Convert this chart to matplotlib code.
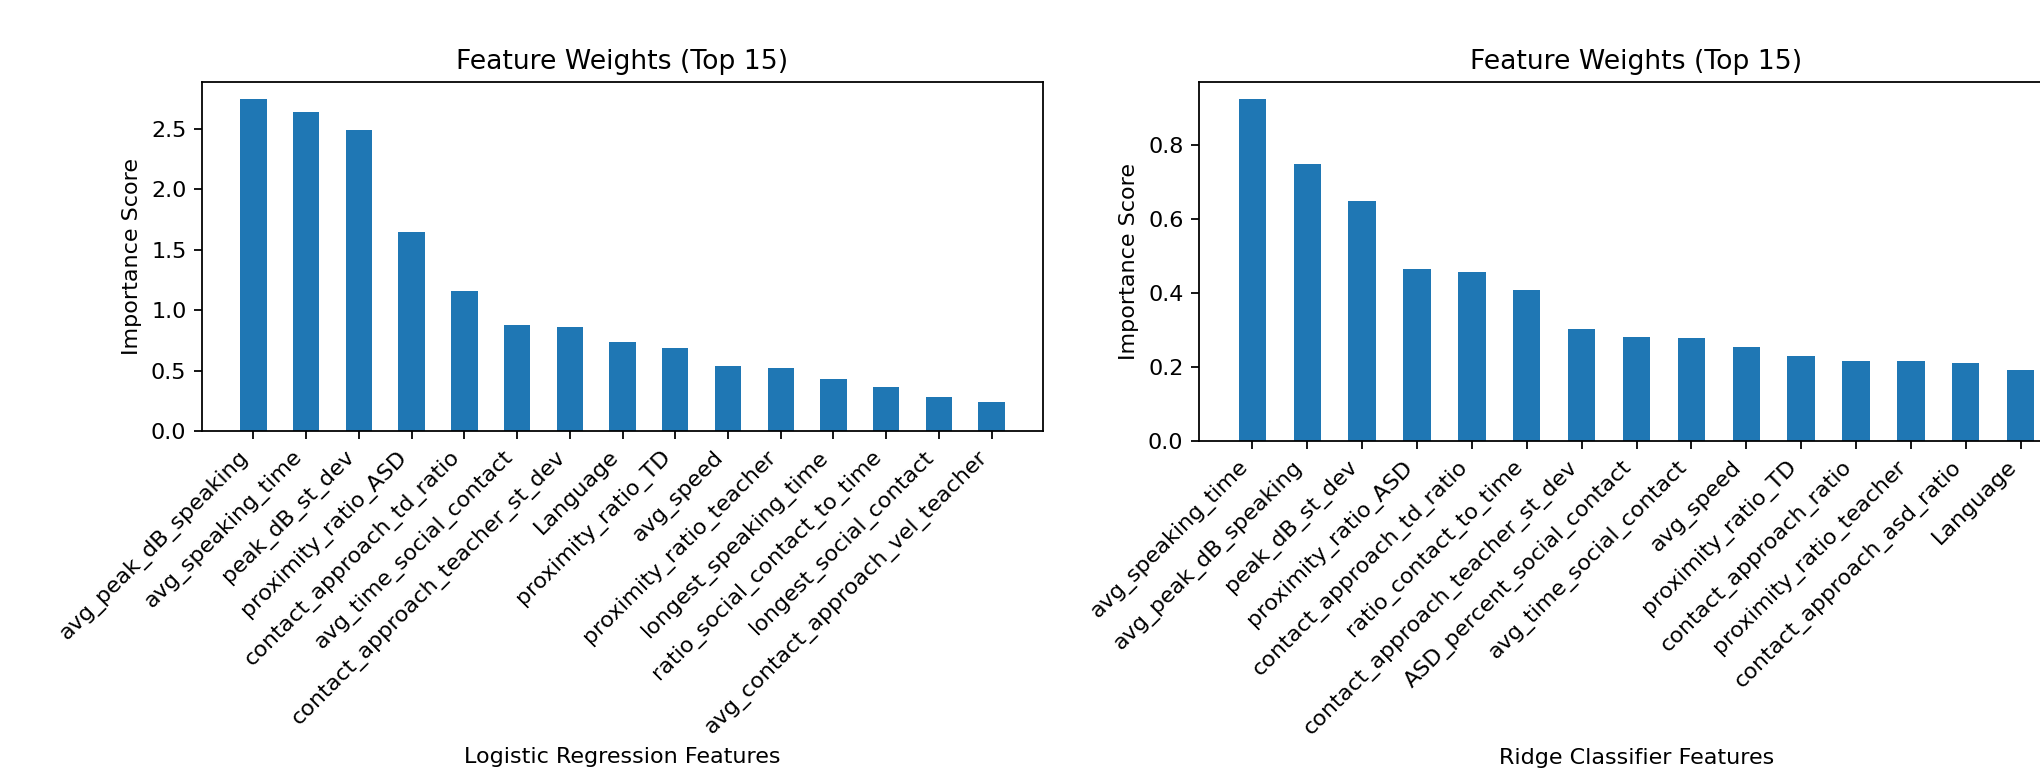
import numpy as np
import matplotlib
matplotlib.use("Agg")
import matplotlib.pyplot as plt

# Logistic regression top-15 feature weights
lr_features = [
    "avg_peak_dB_speaking", "avg_speaking_time", "peak_dB_st_dev", "proximity_ratio_ASD",
    "contact_approach_td_ratio", "avg_time_social_contact", "contact_approach_teacher_st_dev",
    "Language", "proximity_ratio_TD", "avg_speed", "proximity_ratio_teacher",
    "longest_speaking_time", "ratio_social_contact_to_time", "longest_social_contact",
    "avg_contact_approach_vel_teacher",
]
lr_weights = [2.749, 2.641, 2.492, 1.644, 1.160, 0.873, 0.862, 0.740, 0.688,
              0.541, 0.525, 0.431, 0.362, 0.282, 0.243]

# Ridge classifier top-15 feature weights
ridge_features = [
    "avg_speaking_time", "avg_peak_dB_speaking", "peak_dB_st_dev", "proximity_ratio_ASD",
    "contact_approach_td_ratio", "ratio_contact_to_time", "contact_approach_teacher_st_dev",
    "ASD_percent_social_contact", "avg_time_social_contact", "avg_speed",
    "proximity_ratio_TD", "contact_approach_ratio", "proximity_ratio_teacher",
    "contact_approach_asd_ratio", "Language",
]
ridge_weights = [0.924, 0.749, 0.648, 0.466, 0.458, 0.409, 0.304, 0.282, 0.278,
                 0.255, 0.229, 0.216, 0.216, 0.211, 0.193]

DPI = 160
W, H = 2040, 775


def draw(ax, names, vals, xlabel):
    x = np.arange(len(names))
    ax.bar(x, vals, width=0.5, color="#1f77b4")
    ax.set_xticks(x)
    ax.set_xticklabels(names, rotation=45, ha="right")
    ax.set_title("Feature Weights (Top 15)")
    ax.set_ylabel("Importance Score")
    ax.set_xlabel(xlabel)


fig = plt.figure(figsize=(W / DPI, H / DPI), dpi=DPI)
# right panel runs past the figure edge, as in the original crop
ax1 = fig.add_axes([202 / W, 1 - 431 / H, 841 / W, 349 / H])
ax2 = fig.add_axes([1199 / W, 1 - 441 / H, 875 / W, 359 / H])
draw(ax1, lr_features, lr_weights, "Logistic Regression Features")
draw(ax2, ridge_features, ridge_weights, "Ridge Classifier Features")

fig.savefig("out.png", dpi=DPI)
